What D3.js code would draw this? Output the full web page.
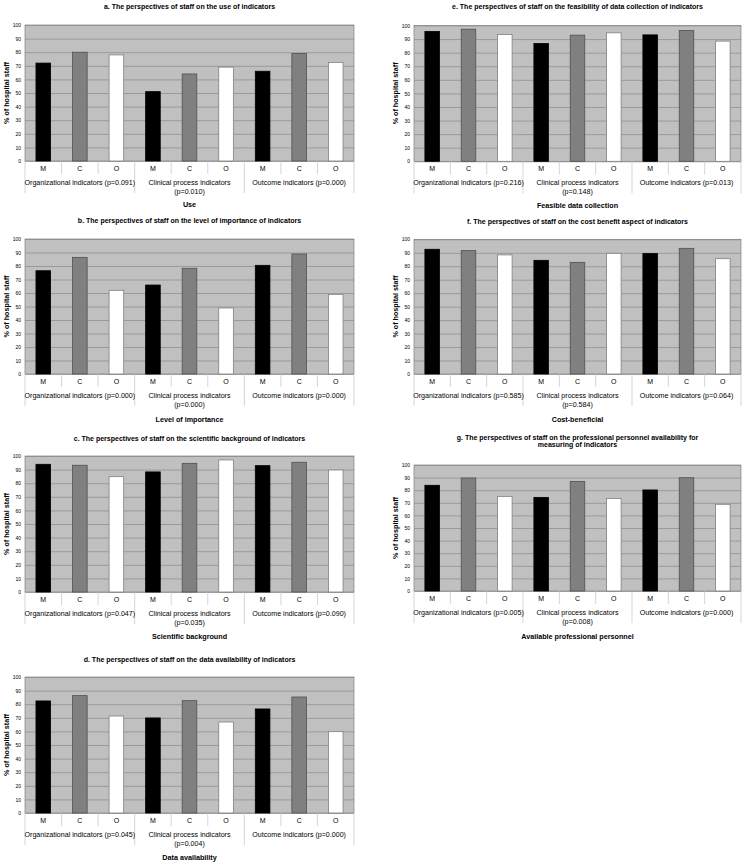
<!DOCTYPE html>
<html>
<head>
<meta charset="utf-8">
<script src="https://cdn.jsdelivr.net/npm/d3@7"></script>
<style>
  html, body { margin: 0; padding: 0; background: #fff; }
  svg { display: block; font-family: "Liberation Sans", Arial, sans-serif; }
</style>
</head>
<body>
<svg id="chart" width="745" height="865"></svg>
<script>
// categories shared by all panels
const categories = ['M', 'C', 'O'];
const groupNames = ['Organizational indicators', 'Clinical process indicators', 'Outcome indicators'];
const wrapGroup = [false, true, false];
const yTicks = d3.range(0, 101, 10);

// values, order: M,C,O for Organizational, Clinical, Outcome
const useValues = [72, 80, 78, 51, 64, 69, 66, 79, 72.5];
const usePValues = ['0.091', '0.010', '0.000'];
const importanceValues = [76.5, 86.4, 62, 65.9, 78.3, 48.9, 80.5, 88.9, 59];
const importancePValues = ['0.000', '0.000', '0.000'];
const scientificValues = [93.9, 93.2, 84.8, 88.3, 94.6, 97.1, 92.9, 95.4, 89.7];
const scientificPValues = ['0.047', '0.035', '0.090'];
const dataAvailValues = [82.4, 86.3, 71.3, 69.9, 82.6, 66.9, 76.5, 85.3, 59.8];
const dataAvailPValues = ['0.045', '0.004', '0.000'];
const feasibleValues = [95.6, 97.3, 93.4, 86.7, 92.9, 94.6, 93.1, 96.3, 88.5];
const feasiblePValues = ['0.216', '0.148', '0.013'];
const costValues = [92.6, 91.6, 88.4, 84.4, 82.9, 89.6, 89.4, 93.3, 85.6];
const costPValues = ['0.585', '0.584', '0.064'];
const personnelValues = [83.9, 89.7, 75.1, 74.3, 87, 73.5, 80.2, 89.9, 68.8];
const personnelPValues = ['0.005', '0.008', '0.000'];

const barFill = { M: '#000000', C: '#808080', O: '#ffffff' };
const barStroke = { M: '#000000', C: '#505050', O: '#808080' };

const panels = [
  { title: ['a. The perspectives of staff on the use of indicators'], xTitle: 'Use',
    values: useValues, pValues: usePValues,
    left: 25, right: 354, top: 25, bottom: 161, titleY: 6, xTitleY: 204 },
  { title: ['b. The perspectives of staff on the level of importance of indicators'], xTitle: 'Level of importance',
    values: importanceValues, pValues: importancePValues,
    left: 25, right: 354, top: 239, bottom: 374, titleY: 220, xTitleY: 419 },
  { title: ['c. The perspectives of staff on the scientific background of indicators'], xTitle: 'Scientific background',
    values: scientificValues, pValues: scientificPValues,
    left: 25, right: 354, top: 456, bottom: 592, titleY: 438, xTitleY: 636 },
  { title: ['d. The perspectives of staff on the data availability of indicators'], xTitle: 'Data availability',
    values: dataAvailValues, pValues: dataAvailPValues,
    left: 25, right: 354, top: 677, bottom: 813, titleY: 659, xTitleY: 857 },
  { title: ['e. The perspectives of staff on the feasibility of data collection of indicators'], xTitle: 'Feasible data collection',
    values: feasibleValues, pValues: feasiblePValues,
    left: 414, right: 741, top: 25.5, bottom: 161.3, titleY: 6, xTitleY: 205 },
  { title: ['f. The perspectives of staff on the cost benefit aspect of indicators'], xTitle: 'Cost-beneficial',
    values: costValues, pValues: costPValues,
    left: 414, right: 741, top: 239.3, bottom: 374, titleY: 221, xTitleY: 419 },
  { title: ['g. The perspectives of staff on the professional personnel availability for', 'measuring of indicators'],
    xTitle: 'Available professional personnel',
    values: personnelValues, pValues: personnelPValues,
    left: 414, right: 741, top: 465, bottom: 591, titleY: 437, xTitleY: 636 }
];

const svg = d3.select('#chart');

function drawPanel(p) {
  const g = svg.append('g');
  const width = p.right - p.left;
  const height = p.bottom - p.top;
  const cx = (p.left + p.right) / 2;

  const y = d3.scaleLinear().domain([0, 100]).range([p.bottom, p.top]);
  const x0 = d3.scaleBand().domain(groupNames).range([p.left, p.right]);
  const x1 = d3.scaleBand().domain(categories).range([0, x0.bandwidth()]);

  const rows = [];
  groupNames.forEach((grp, gi) => {
    categories.forEach((cat, ci) => {
      rows.push({ group: grp, cat: cat, value: p.values[gi * 3 + ci] });
    });
  });

  // title
  p.title.forEach((line, i) => {
    g.append('text')
      .attr('x', cx).attr('y', p.titleY + 2.5 + i * 7.8)
      .attr('text-anchor', 'middle')
      .attr('font-size', 7).attr('font-weight', 'bold')
      .text(line);
  });

  // plot area
  g.append('rect')
    .attr('x', p.left).attr('y', p.top)
    .attr('width', width).attr('height', height)
    .attr('fill', '#c0c0c0');

  // gridlines
  g.append('g')
    .attr('transform', `translate(${p.left},0)`)
    .call(d3.axisLeft(y).tickValues(yTicks).tickSize(-width).tickFormat(''))
    .call(ax => ax.select('.domain').remove())
    .call(ax => ax.selectAll('line').attr('stroke', '#8a8a8a').attr('stroke-width', 0.7));

  // frame
  g.append('rect')
    .attr('x', p.left).attr('y', p.top)
    .attr('width', width).attr('height', height)
    .attr('fill', 'none').attr('stroke', '#808080').attr('stroke-width', 0.7);

  // y axis labels
  g.append('g')
    .attr('transform', `translate(${p.left},0)`)
    .call(d3.axisLeft(y).tickValues(yTicks).tickSize(0).tickPadding(4))
    .call(ax => ax.select('.domain').remove())
    .call(ax => ax.selectAll('text')
      .attr('font-size', 5).attr('fill', '#000')
      .attr('font-family', '"Liberation Sans", Arial, sans-serif'));

  // bars
  const barW = x1.bandwidth() * 0.4;
  g.append('g').selectAll('rect')
    .data(rows)
    .join('rect')
    .attr('x', d => x0(d.group) + x1(d.cat) + (x1.bandwidth() - barW) / 2)
    .attr('y', d => y(d.value))
    .attr('width', barW)
    .attr('height', d => y(0) - y(d.value))
    .attr('fill', d => barFill[d.cat])
    .attr('stroke', d => barStroke[d.cat])
    .attr('stroke-width', 0.8);

  // category separators (short) and group separators (long)
  const sep = g.append('g').attr('stroke', '#c4c4c4').attr('stroke-width', 0.7);
  groupNames.forEach(grp => {
    categories.slice(1).forEach(cat => {
      const xx = x0(grp) + x1(cat);
      sep.append('line').attr('x1', xx).attr('x2', xx)
        .attr('y1', p.bottom).attr('y2', p.bottom + 13);
    });
  });
  groupNames.concat(['end']).forEach((grp, i) => {
    const xx = i < groupNames.length ? x0(grp) : p.right;
    sep.append('line').attr('x1', xx).attr('x2', xx)
      .attr('y1', p.bottom).attr('y2', p.bottom + 32);
  });

  // category labels
  g.append('g').selectAll('text')
    .data(rows)
    .join('text')
    .attr('x', d => x0(d.group) + x1(d.cat) + x1.bandwidth() / 2)
    .attr('y', p.bottom + 9.6)
    .attr('text-anchor', 'middle')
    .attr('font-size', 7)
    .text(d => d.cat);

  // group labels
  groupNames.forEach((grp, gi) => {
    const label = `${grp} (p=${p.pValues[gi]})`;
    const lines = wrapGroup[gi] ? [grp, `(p=${p.pValues[gi]})`] : [label];
    lines.forEach((line, li) => {
      g.append('text')
        .attr('x', x0(grp) + x0.bandwidth() / 2)
        .attr('y', p.bottom + 23.5 + li * 9)
        .attr('text-anchor', 'middle')
        .attr('font-size', 7.1)
        .text(line);
    });
  });

  // x axis title
  g.append('text')
    .attr('x', cx).attr('y', p.xTitleY + 2.6)
    .attr('text-anchor', 'middle')
    .attr('font-size', 7.2).attr('font-weight', 'bold')
    .text(p.xTitle);

  // y axis title
  g.append('text')
    .attr('transform', `translate(${p.left - 16.5},${(p.top + p.bottom) / 2}) rotate(-90)`)
    .attr('text-anchor', 'middle')
    .attr('font-size', 7.2).attr('font-weight', 'bold')
    .text('% of hospital staff');
}

panels.forEach(drawPanel);
</script>
</body>
</html>
